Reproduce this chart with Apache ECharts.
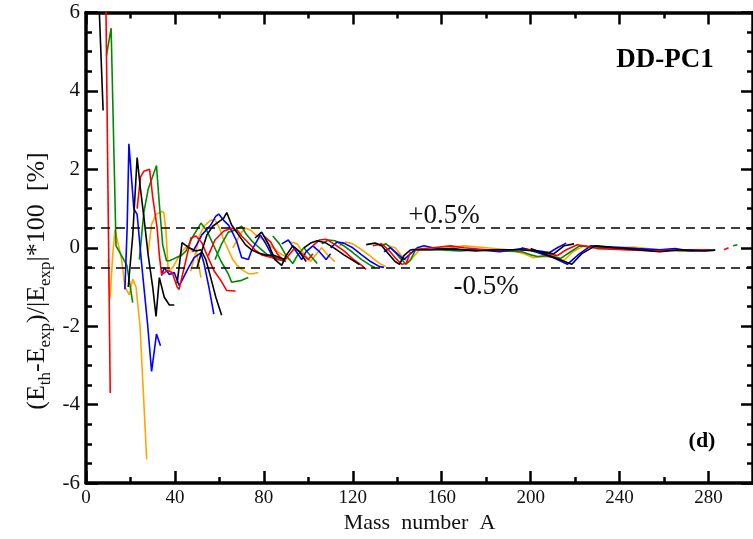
<!DOCTYPE html>
<html>
<head>
<meta charset="utf-8">
<script src="https://cdn.jsdelivr.net/npm/echarts@6/dist/echarts.min.js"></script>
<style>
  html, body { margin: 0; padding: 0; background: #fff; }
  #chart { width: 753px; height: 539px; }
</style>
</head>
<body>
<div id="chart"></div>
<script>
// x ticks (mass number A) and y ticks (relative deviation in %)
const xTicks = [0, 40, 80, 120, 160, 200, 240, 280]
const yTicks = [-6, -4, -2, 0, 2, 4, 6]
const bandLimits = [0.5, -0.5]

// each chain: [A, (Eth-Eexp)/|Eexp|*100]
const blackChains = [
  [[5, 7.5], [7.7, 3.5]],
  [[19, -1.0], [21, 0.3], [23, 2.3], [24.5, 1.5], [26, 0.8], [28, -0.2], [30, -1.0], [31.5, -1.75], [33, -0.76], [35.2, -1.26], [37.5, -1.46], [39.7, -1.46]],
  [[41, -0.9], [43.2, 0.13], [46.4, 0], [49.5, -0.08], [51.7, -0.05], [53.9, -0.3], [56.1, -0.76], [58.4, -1.26], [61, -1.72]],
  [[50, -0.5], [52, -0.1], [54.4, 0.33], [57, 0.55], [60.6, 0.7], [62, 0.76], [63.3, 0.9], [65.5, 0.58], [68.6, 0.33], [71.7, 0.08], [74.4, -0.05], [77.5, -0.13], [80.6, -0.18], [85, -0.2], [89.4, -0.3]],
  [[76, 0.25], [79, 0.4], [82, 0.1], [85, -0.3], [88, -0.45], [90, -0.2], [93, 0.05], [96, -0.1], [99, -0.35]],
  [[98, 0.0], [101, 0.12], [104, 0.18], [108, 0.12], [112, -0.02], [116, -0.18], [120, -0.32], [123, -0.43]],
  [[126, 0.08], [130, 0.12], [133, 0.05], [136, -0.15], [139, -0.35], [141, -0.42], [143, -0.2], [146, -0.05]],
  [[146, -0.05], [155, -0.05], [165, -0.02], [175, -0.08], [185, -0.05], [195, -0.05], [202, -0.08], [206, -0.12], [210.5, -0.15], [215, 0.05], [219.5, 0.1]],
  [[200, -0.02], [206, -0.15], [212, -0.28], [218.5, -0.42], [223, -0.15], [229, 0.05], [238, 0.0], [248, -0.05], [258, -0.1], [268, -0.05], [278, -0.08], [283, -0.06]]
]
const redChains = [
  [[8.9, 6.5], [10.9, -3.7]],
  [[23, 1.0], [24.5, 1.8], [26, 1.95], [28.6, 2.0], [30, 1.3], [32, 0.5], [33, -0.2], [34, -0.68], [36.6, -0.58], [38.8, -0.63], [41, -1.0], [41.9, -1.06], [42.8, -0.83], [45, -0.3], [47.2, 0.25], [49.5, 0.3], [52.1, 0.13], [54.4, -0.18], [57.5, -0.58], [60.6, -0.83], [63.3, -1.09], [67.3, -1.1]],
  [[55, -0.2], [58, 0.2], [62, 0.43], [65.5, 0.5], [68, 0.45], [70, 0.3], [73, 0.13], [76, -0.05], [79, -0.18], [84, -0.25], [88, -0.3]],
  [[80, 0.3], [83, 0.15], [86, -0.15], [89, -0.35], [91, -0.2], [94, 0.0], [97, -0.15], [100, -0.3], [102, -0.15]],
  [[102, 0.05], [105, 0.2], [108, 0.22], [112, 0.08], [116, -0.08], [120, -0.28], [124, -0.45], [126, -0.55]],
  [[129, 0.05], [133, 0.1], [136, -0.05], [139, -0.25], [142, -0.42], [144, -0.4], [146, -0.1]],
  [[146, -0.05], [156, 0.0], [164, 0.05], [170, 0.0], [180, -0.05], [192, -0.05], [200, -0.05], [205, -0.12], [212, -0.2], [216, -0.05], [221, 0.08], [230, -0.02], [242, -0.05], [255, -0.08], [268, -0.05], [280, -0.05]],
  [[287, -0.05], [289, 0.0]]
]
const greenChains = [
  [[9.2, 4.9], [11.3, 5.6], [13.5, 0.05], [16, -0.2], [18.4, -0.45], [21, -1.4]],
  [[24, -0.3], [26, 0.9], [28, 1.5], [31.7, 2.1], [33, 1.1], [34.5, 0.07], [36.2, -0.33], [37.5, -0.33], [40.6, -0.25], [42.8, -0.2], [45, -0.08], [47.7, 0.25], [51.7, 0.63], [54.4, 0.43], [58.3, -0.05], [60.6, -0.33], [64.1, -0.68], [65.5, -0.88], [70, -0.83], [73, -0.76]],
  [[58, -0.3], [61, 0.1], [64, 0.4], [67, 0.45], [70, 0.55], [72, 0.35], [75, 0.15], [78, 0.0], [82, -0.2], [86, -0.3], [90, -0.35]],
  [[84, 0.3], [87, 0.1], [90, -0.2], [93, -0.4], [95, -0.2], [98, 0.0], [101, -0.2], [104, -0.4]],
  [[106, 0.1], [109, 0.2], [112, 0.18], [116, 0.05], [120, -0.12], [124, -0.3], [128, -0.45], [130, -0.5]],
  [[132, 0.05], [135, 0.1], [138, -0.05], [141, -0.25], [144, -0.42], [146, -0.3], [148, -0.08]],
  [[148, -0.05], [158, -0.05], [168, -0.08], [178, -0.05], [188, -0.08], [196, -0.1], [200, -0.18], [203, -0.22], [208, -0.2], [213.5, -0.27], [218, -0.1], [222, 0.05], [232, 0.0], [245, -0.05], [258, -0.05], [270, -0.08], [281, -0.05]],
  [[291, 0.05], [293, 0.08]]
]
const blueChains = [
  [[17.5, -1.06], [18.5, 0.5], [19.3, 2.65], [21.5, 1.0], [23, 0.85], [25, -0.4], [27.7, -1.95], [29.5, -3.15], [31.7, -2.2], [33.5, -2.5]],
  [[33.9, -0.71], [35.2, -0.51], [37.5, -0.68], [39.7, -0.63], [41.9, -0.96], [43.2, -0.83], [45.4, -0.58], [48.6, -0.25], [51.7, -0.13], [53, -0.38], [55.3, -1.01], [57.5, -1.69]],
  [[48, -0.1], [50, 0.1], [52.1, 0.33], [56.1, 0.58], [58.3, 0.8], [59.7, 0.86], [61.9, 0.7], [64.1, 0.58], [65.5, 0.43], [67.7, 0.18], [70, -0.25], [73, -0.3], [74.4, -0.08], [78.4, 0.33], [80.6, 0.13], [84.2, -0.25], [89.4, -0.3]],
  [[88, 0.1], [91, 0.2], [94, -0.05], [97, -0.3], [99, -0.1], [102, 0.05], [105, -0.1], [108, -0.3], [110, -0.15]],
  [[110, 0.0], [113, 0.15], [116, 0.12], [120, 0.0], [124, -0.18], [128, -0.35], [132, -0.48], [134, -0.5]],
  [[134, -0.1], [137, 0.0], [140, -0.15], [143, -0.3], [146, -0.15], [149, 0.0], [152, 0.05], [156, 0.0]],
  [[156, 0.0], [166, -0.05], [176, -0.05], [186, -0.1], [196, -0.02], [200, -0.05], [204, -0.08], [208.5, -0.12], [212, 0.0], [216, 0.12]],
  [[196, 0.0], [203, -0.12], [210, -0.25], [216.5, -0.42], [222, -0.15], [227, 0.05], [237, 0.02], [248, -0.02], [258, -0.05], [265, -0.02], [272, -0.08], [283, -0.06]]
]
const orangeChains = [
  [[10, -0.3], [10.8, -1.3], [12, -0.2], [13, 0.45], [14.5, 0.1], [16, -0.3], [17.5, -1.0], [19.5, -1.2], [21, -0.8], [22.5, -1.0], [24.3, -2.0], [27.3, -5.4]],
  [[28, -0.1], [29.5, 0.6], [31.5, 0.85], [34, 0.93], [35, 0.9], [36, 0.4], [37, -0.6], [39, -0.5], [41, -0.3], [43, -0.1], [45.5, 0.05], [48, -0.1], [49.5, -0.05], [51.7, -0.76]],
  [[47, -0.6], [49, -0.2], [51, 0.3], [53, 0.55], [56, 0.7], [58, 0.72], [60, 0.5], [62, 0.2], [64, -0.05], [66, -0.3], [68, -0.45], [70, -0.55], [73, -0.66], [75, -0.66], [77.5, -0.63]],
  [[66, 0.0], [68, 0.2], [70, 0.4], [72, 0.5], [74, 0.45], [77, 0.3], [80, 0.2], [83, 0.05], [86, -0.1], [89, -0.2], [92, -0.3]],
  [[92, 0.15], [95, 0.1], [98, -0.15], [101, -0.35], [103, -0.2], [106, 0.0], [109, -0.2], [112, -0.35]],
  [[114, 0.05], [117, 0.15], [120, 0.1], [124, -0.05], [128, -0.22], [132, -0.4], [135, -0.48]],
  [[136, 0.05], [139, 0.0], [142, -0.2], [145, -0.38], [147, -0.25], [150, -0.05]],
  [[150, -0.05], [160, -0.02], [170, 0.05], [180, 0.0], [190, -0.05], [197, -0.15], [201, -0.25], [206, -0.22], [211, -0.25], [215, -0.32], [219, -0.1], [224, 0.05], [235, 0.0], [246, 0.02], [258, -0.05], [268, -0.08], [279, -0.05]]
]

const serif = '"Liberation Serif", "DejaVu Serif", serif'
const groups = [
  [orangeChains, '#ffa500'],
  [greenChains, '#008a00'],
  [blueChains, '#0000ff'],
  [redChains, '#ff0000'],
  [blackChains, '#000000']
]

const series = []
groups.forEach(([chains, color]) => {
  chains.forEach(chain => {
    series.push({
      type: 'line',
      data: chain,
      symbol: 'none',
      showSymbol: false,
      silent: true,
      lineStyle: { color: color, width: 1.6 },
      z: 3
    })
  })
})
// dashed +-0.5% band
series[0].markLine = {
  silent: true,
  symbol: 'none',
  label: { show: false },
  lineStyle: { color: '#000', type: [9, 6], width: 1.5 },
  data: bandLimits.map(v => ({ yAxis: v }))
}

const tickStyle = { color: '#000', width: 2.5 }
const lineStyle = { color: '#000', width: 3.5 }

function xAx(pos, showLabel) {
  return {
    type: 'value', position: pos,
    min: xTicks[0], max: 300, interval: 40,
    axisLine: { show: true, onZero: false, lineStyle: lineStyle },
    axisTick: { show: true, inside: true, length: 12, lineStyle: tickStyle },
    minorTick: { show: true, splitNumber: 2, length: 6, lineStyle: tickStyle },
    splitLine: { show: false },
    axisLabel: {
      show: showLabel, showMaxLabel: false, margin: 5,
      fontFamily: serif, fontSize: 19, color: '#111'
    },
    name: showLabel ? 'Mass  number  A' : '',
    nameLocation: 'middle', nameGap: 24,
    nameTextStyle: { fontFamily: serif, fontSize: 22, color: '#111' }
  }
}
function yAx(pos, showLabel) {
  return {
    type: 'value', position: pos,
    min: yTicks[0], max: yTicks[yTicks.length - 1], interval: 2,
    axisLine: { show: true, onZero: false, lineStyle: lineStyle },
    axisTick: { show: true, inside: true, length: 12, lineStyle: tickStyle },
    minorTick: { show: true, splitNumber: 4, length: 6, lineStyle: tickStyle },
    splitLine: { show: false },
    axisLabel: { show: showLabel, margin: 6, fontFamily: serif, fontSize: 21, color: '#111' }
  }
}

const chart = echarts.init(document.getElementById('chart'))
chart.setOption({
  animation: false,
  backgroundColor: '#fff',
  grid: { left: 86, right: -8, top: 12.5, bottom: 51.5, containLabel: false },
  xAxis: [xAx('bottom', true), xAx('top', false)],
  yAxis: [yAx('left', true), yAx('right', false)],
  series: series,
  graphic: [
    {
      type: 'text', x: 37, y: 281, rotation: Math.PI / 2,
      style: {
        text: '{n|(E}{s|th}{n|-E}{s|exp}{n|)/|E}{s|exp}{n||*100  [%]}',
        align: 'center', verticalAlign: 'middle', fill: '#111',
        rich: {
          n: { fontFamily: serif, fontSize: 26, lineHeight: 34, verticalAlign: 'middle' },
          s: { fontFamily: serif, fontSize: 17, lineHeight: 34, verticalAlign: 'bottom' }
        }
      }
    },
    { type: 'text', x: 665, y: 60, style: { text: 'DD-PC1', font: 'bold 27px ' + serif, fill: '#000', align: 'center', verticalAlign: 'middle' } },
    { type: 'text', x: 702, y: 441, style: { text: '(d)', font: 'bold 22px ' + serif, fill: '#000', align: 'center', verticalAlign: 'middle' } },
    { type: 'text', x: 444, y: 216, style: { text: '+0.5%', font: '27px ' + serif, fill: '#111', align: 'center', verticalAlign: 'middle' } },
    { type: 'text', x: 486, y: 287, style: { text: '-0.5%', font: '27px ' + serif, fill: '#111', align: 'center', verticalAlign: 'middle' } }
  ]
})
</script>
</body>
</html>
